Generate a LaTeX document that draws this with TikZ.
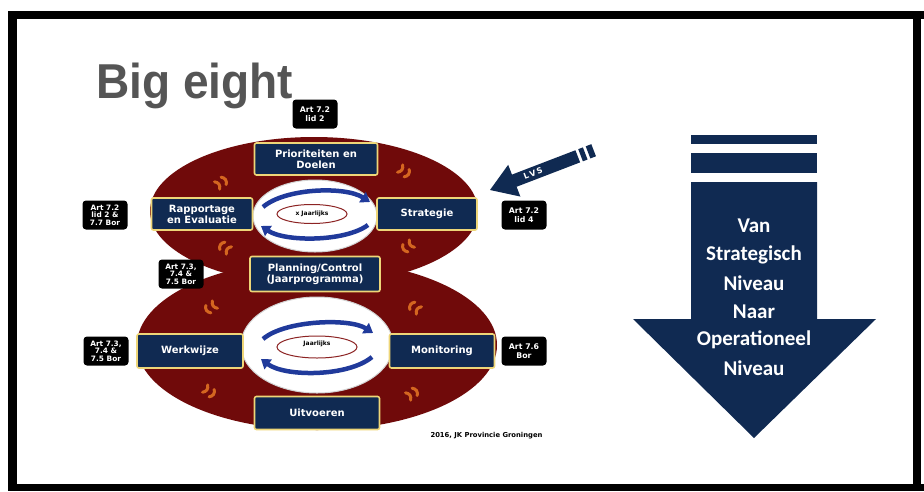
\documentclass[tikz,border=0pt]{standalone}
\usepackage{fontspec}
\setmainfont{DejaVu Sans}
\newfontfamily\boxfont{DejaVu Sans}
\newfontfamily\titlefnt{Liberation Sans}
\newfontfamily\calib{Carlito}
\usetikzlibrary{arrows.meta,shapes.geometric}
\definecolor{eightred}{RGB}{112,10,10}
\definecolor{navy}{RGB}{16,42,82}
\definecolor{gold}{RGB}{238,214,120}
\definecolor{cycblue}{RGB}{32,58,155}
\definecolor{qorange}{RGB}{212,102,32}
\definecolor{ringred}{RGB}{140,35,35}
\definecolor{titlegray}{RGB}{85,85,85}
\tikzset{
  navybox/.style={fill=navy, draw=gold, line width=1.6pt, rounded corners=2pt, text=white,
    font=\boxfont\bfseries\fontsize{10}{11}\selectfont, align=center, inner sep=0pt},
  artbox/.style={fill=black, rounded corners=3.5pt, minimum width=45pt, minimum height=29pt,
    text=white, font=\boxfont\bfseries\fontsize{7.8}{9}\selectfont, align=center, inner sep=0pt},
  artbox3/.style={artbox, font=\boxfont\bfseries\fontsize{7.4}{7.6}\selectfont},
  cyc/.style={draw=cycblue, line width=4.5pt, -{Triangle[width=12pt,length=9pt]}},
  qm/.pic={
    \draw[qorange, line width=3pt, line cap=round] (-6,-4.5) .. controls (-3,-1.5) and (-3,1.5) .. (-6,4.5);
    \draw[qorange, line width=3pt, line cap=round] (2,-4.5) .. controls (5,-1.5) and (5,1.5) .. (2,4.5);
  },
  bigtxt/.style={text=white, font=\calib\bfseries\fontsize{21}{24}\selectfont},
}
\begin{document}
\begin{tikzpicture}[x=1pt,y=-1pt]
\useasboundingbox (0,0) rectangle (924,491);
\fill[white] (0,0) rectangle (924,491);
% frame
\fill[black] (8,11) rectangle (924,19);
\fill[black] (8,11) rectangle (17,491);
\fill[black] (8,484) rectangle (924,491);
\fill[black] (913,11) rectangle (921,491);

% title
\node[anchor=base west, text=titlegray, font=\titlefnt\bfseries\fontsize{49}{50}\selectfont, xscale=0.94] (title) at (93,98) {Big eight};

% figure eight
\fill[eightred] (314,211) ellipse [x radius=164, y radius=74];
\fill[eightred] (317,345) ellipse [x radius=180, y radius=85];
\fill[white, draw=gray!35, line width=1pt] (315,216) ellipse [x radius=62, y radius=36];
\fill[white, draw=gray!35, line width=1pt] (317,345) ellipse [x radius=76, y radius=48];

% orange marks
\pic[rotate=35] at (222,182) {qm};
\pic[rotate=-35] at (405,172) {qm};
\pic[rotate=-35, xscale=-1] at (224,247) {qm};
\pic[rotate=35, xscale=-1] at (407,247) {qm};
\pic[rotate=35, xscale=-1] at (210,308) {qm};
\pic[rotate=-35, xscale=-1] at (414,307) {qm};
\pic[rotate=-35] at (210,392) {qm};
\pic[rotate=35] at (413,393) {qm};

% cycles
\node[draw=ringred, line width=1pt, fill=white, ellipse, minimum width=70pt, minimum height=19pt, inner sep=0pt] (ring1) at (312,214) {};
\node[font=\boxfont\bfseries\fontsize{6}{7}\selectfont] (ring1txt) at (ring1) {x Jaarlijks};
\coordinate (c1a) at (263,207);
\coordinate (c1b) at (370,202);
\coordinate (c1c) at (368,225);
\coordinate (c1d) at (261,226);
\draw[cyc] (c1a) .. controls (285,188) and (345,186) .. (c1b);
\draw[cyc] (c1c) .. controls (345,242) and (285,242) .. (c1d);

\node[draw=ringred, line width=1pt, fill=white, ellipse, minimum width=80pt, minimum height=22pt, inner sep=0pt] (ring2) at (317,347) {};
\node[font=\boxfont\bfseries\fontsize{6}{7}\selectfont] (ring2txt) at (317,344) {Jaarlijks};
\coordinate (c2a) at (263,339);
\coordinate (c2b) at (373,333);
\coordinate (c2c) at (372,357);
\coordinate (c2d) at (261,359);
\draw[cyc] (c2a) .. controls (285,320) and (350,318) .. (c2b);
\draw[cyc] (c2c) .. controls (348,377) and (285,377) .. (c2d);

% navy boxes
\node[navybox, minimum width=123pt, minimum height=32pt] (prio) at (316,159) {Prioriteiten en\\Doelen};
\node[navybox, minimum width=101pt, minimum height=32pt] (rapp) at (202,214) {Rapportage\\en Evaluatie};
\node[navybox, minimum width=100pt, minimum height=32pt] (strat) at (427,214) {Strategie};
\node[navybox, minimum width=130pt, minimum height=35pt] (plan) at (315,274) {Planning/Control\\(Jaarprogramma)};
\node[navybox, minimum width=106pt, minimum height=34pt] (werk) at (190,351) {Werkwijze};
\node[navybox, minimum width=105pt, minimum height=34pt] (moni) at (442,351) {Monitoring};
\node[navybox, minimum width=125pt, minimum height=33pt] (uitv) at (317,413) {Uitvoeren};

% art boxes
\node[artbox] (art1) at (315,114) {Art 7.2\\lid 2};
\node[artbox3] (art2) at (105,215) {Art 7.2\\lid 2 \&\\7.7 Bor};
\node[artbox] (art3) at (524,215) {Art 7.2\\lid 4};
\node[artbox3] (art4) at (181,274) {Art 7.3,\\7.4 \&\\7.5 Bor};
\node[artbox3] (art5) at (106,351) {Art 7.3,\\7.4 \&\\7.5 Bor};
\node[artbox] (art6) at (524,351) {Art 7.6\\Bor};

% footer
\node[anchor=east, font=\boxfont\bfseries\fontsize{6.8}{8}\selectfont] (foot) at (546,436) {2016, JK Provincie Groningen};

% LVS arrow
\begin{scope}[shift={(490,190)}, rotate=21]
  \fill[navy] (0,0) -- (26,-17) -- (26,-6.5) -- (94,-6.5) -- (94,6.5) -- (26,6.5) -- (26,17) -- cycle;
  \fill[navy] (97,-6.5) rectangle (102,6.5);
  \fill[navy] (105,-6.5) rectangle (111,6.5);
  \node[text=white, font=\boxfont\bfseries\fontsize{8}{9}\selectfont, rotate=21] (lvs) at (46,0) {L\,V\,S};
\end{scope}

% big arrow
\fill[navy] (691,135) rectangle (817,144);
\fill[navy] (691,153) rectangle (817,173);
\fill[navy] (691,182) -- (817,182) -- (817,319) -- (876,319) -- (754,438) -- (633,319) -- (691,319) -- cycle;
\node[bigtxt] (t1) at (754,226) {Van};
\node[bigtxt] (t2) at (754,255) {Strategisch};
\node[bigtxt] (t3) at (754,283) {Niveau};
\node[bigtxt] (t4) at (754,312) {Naar};
\node[bigtxt] (t5) at (754,340) {Operationeel};
\node[bigtxt] (t6) at (754,368) {Niveau};
\end{tikzpicture}
\end{document}
